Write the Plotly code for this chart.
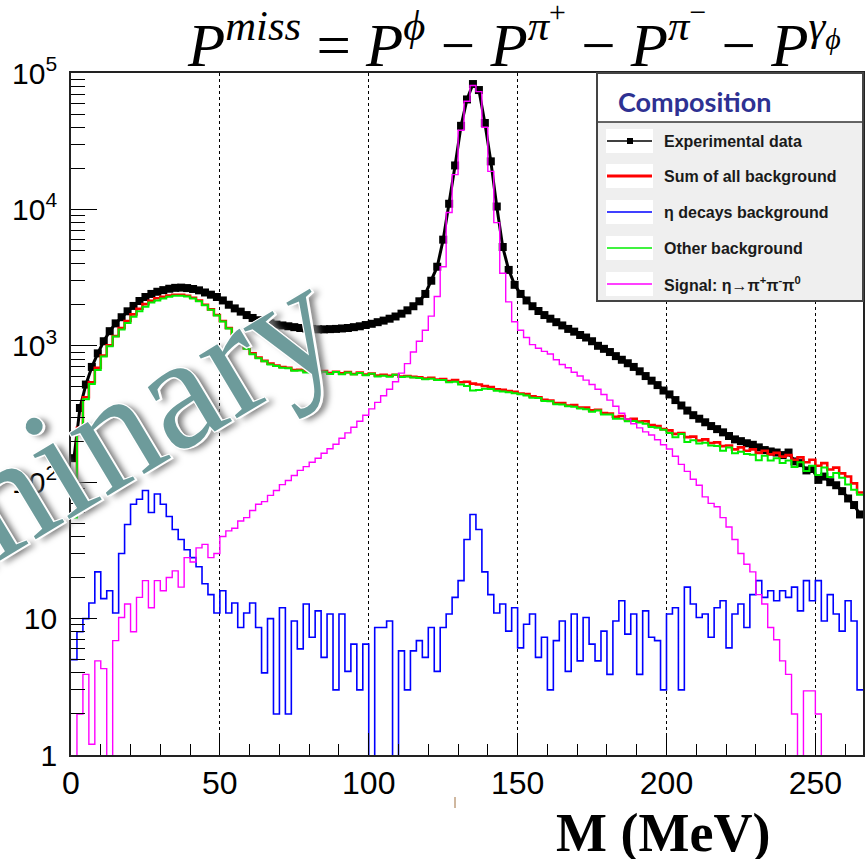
import numpy as np
import plotly.graph_objects as go

# ---------------- data (2 MeV bins, 0..266 MeV) ----------------
bin_edges = list(range(0, 268, 2))          # 134 edges
bin_centers = [e + 1 for e in bin_edges[:-1]]  # 133 centres

exp_data = [
    150, 350, 520, 700, 880, 1080, 1280, 1460, 1620, 1790,
    1960, 2130, 2280, 2400, 2490, 2560, 2620, 2660, 2670, 2650,
    2610, 2550, 2460, 2370, 2280, 2150, 2000, 1880, 1780, 1680,
    1600, 1540, 1490, 1460, 1430, 1410, 1390, 1370, 1350, 1340,
    1330, 1320, 1320, 1325, 1330, 1340, 1350, 1370, 1390, 1420,
    1450, 1490, 1530, 1580, 1640, 1720, 1820, 1950, 2120, 2400,
    3000, 3800, 6000, 11000, 21000, 41000, 64000, 83000, 75000, 43000,
    22500, 10500, 5300, 3600, 2800, 2400, 2150, 1950, 1800, 1680,
    1580, 1490, 1410, 1330, 1270, 1200, 1150, 1080, 1000, 950,
    900, 840, 790, 745, 700, 650, 600, 555, 515, 470,
    440, 400, 365, 335, 310, 292, 275, 258, 245, 232,
    218, 206, 200, 193, 188, 180, 172, 168, 165, 158,
    165, 142, 138, 122, 125, 104, 110, 100, 95, 86,
    76, 68, 58,
]

sum_bkg = [
    60, 250, 420, 540, 690, 850, 1010, 1180, 1350, 1520,
    1700, 1870, 2020, 2140, 2230, 2290, 2340, 2370, 2370, 2330,
    2250, 2150, 2000, 1850, 1680, 1520, 1350, 1220, 1080, 960,
    880, 820, 775, 740, 715, 700, 690, 665, 668, 650,
    655, 640, 652, 632, 645, 628, 641, 622, 636, 615,
    625, 605, 612, 603, 614, 596, 600, 592, 588, 575,
    583, 566, 570, 552, 561, 540, 545, 528, 520, 507,
    498, 480, 476, 466, 460, 447, 442, 426, 420, 402,
    396, 380, 381, 364, 368, 352, 352, 336, 340, 322,
    318, 302, 306, 288, 292, 278, 280, 262, 258, 245,
    240, 226, 229, 214, 216, 202, 206, 194, 196, 184,
    186, 174, 180, 170, 174, 164, 170, 160, 164, 154,
    158, 146, 152, 140, 146, 132, 138, 124, 128, 116,
    110, 98, 84,
]

eta_bkg = [
    5, 8, 10, 13, 22, 14, 16, 11, 30, 49,
    69, 75, 87, 60, 82, 69, 56, 45, 38, 32,
    28, 24, 18, 15, 11, 16, 11, 13, 8.6, 11,
    13, 8.6, 4, 10, 2, 12, 2, 9.6, 6, 12.8,
    7.3, 11.4, 5.2, 10.8, 3, 10.8, 4.1, 6.5, 3, 6.5,
    0.1, 8.6, 8.6, 9.6, 0.1, 5.8, 3, 5.8, 6.9, 5.2,
    8.6, 4.1, 8.6, 10.8, 14.3, 19, 38, 58, 45, 22,
    15, 11, 12.8, 8.1, 12, 6.1, 9.1, 10.8, 5.2, 7.3,
    3, 6.9, 9.6, 4.1, 10.8, 4.9, 10.2, 6.5, 4.9, 8.1,
    3.9, 9.6, 13.5, 7.7, 10.8, 3.9, 11.4, 7.3, 6.9, 3,
    10.8, 12, 3, 17, 12.8, 10.2, 10.8, 7.3, 12, 13.5,
    6.1, 10.8, 12.8, 8.6, 15, 19, 14.3, 16, 13.5, 16,
    14.3, 17, 11.4, 19, 13.5, 19, 9.6, 15, 10.8, 8.1,
    13.5, 9.6, 3,
]

other_bkg = [
    55, 240, 405, 525, 665, 835, 992, 1168, 1318, 1470,
    1630, 1795, 1930, 2080, 2150, 2220, 2285, 2325, 2330, 2300,
    2220, 2125, 1980, 1835, 1670, 1505, 1340, 1205, 1070, 950,
    866, 810, 770, 728, 712, 690, 686, 655, 660, 638,
    648, 628, 646, 622, 642, 618, 636, 615, 632, 608,
    624, 596, 602, 592, 613, 590, 596, 586, 581, 569,
    574, 562, 561, 541, 546, 520, 507, 470, 474, 485,
    482, 468, 463, 457, 448, 441, 432, 416, 414, 394,
    392, 373, 371, 360, 357, 347, 342, 329, 335, 314,
    314, 292, 292, 280, 281, 274, 268, 254, 251, 242,
    229, 214, 226, 197, 203, 192, 195, 186, 184, 170,
    180, 163, 167, 161, 159, 145, 156, 144, 150, 138,
    144, 129, 140, 121, 132, 113, 128, 109, 117, 108,
    96, 88, 81,
]

signal = [
    0.1, 2, 3.9, 1.2, 4.9, 4.3, 0.1, 6.9, 10.2, 12.8,
    8, 14.3, 19, 12, 19, 16, 20, 22.4, 17, 28,
    26, 33, 35, 28, 30, 40, 44, 46, 52, 55,
    62, 69, 72, 80, 87, 96, 103, 112, 122, 130,
    140, 150, 163, 176, 190, 210, 230, 253, 280, 310,
    345, 385, 430, 480, 545, 630, 740, 900, 1080, 1300,
    1650, 2300, 3800, 9500, 18000, 38000, 62000, 81000, 73000, 40000,
    19000, 8000, 3400, 2100, 1500, 1300, 1150, 1020, 960, 910,
    870, 790, 730, 690, 640, 600, 560, 520, 480, 440,
    400, 360, 320, 290, 268, 250, 234, 222, 205, 188,
    175, 155, 135, 120, 105, 95, 78, 70, 66, 55,
    47, 38, 30, 25, 22, 15, 12.8, 8.6, 7, 4.9,
    3.9, 2, 0.1, 2.95, 2.95, 2, 0.1, 0.1, 0.1, 0.1,
    0.1, 0.1, 0.1,
]

y_tick_vals = [1, 10, 100, 1000, 10000, 100000]
y_tick_text = ["1", "10", "10<sup>2</sup>", "10<sup>3</sup>", "10<sup>4</sup>", "10<sup>5</sup>"]
legend_labels = ["Experimental data", "Sum of all background", "\u03b7 decays background",
                 "Other background", "Signal: \u03b7\u2192\u03c0<sup>+</sup>\u03c0<sup>-</sup>\u03c0<sup>0</sup>"]

# ---------------- figure ----------------
W, H = 865, 859
ML, MR, MT, MB = 71, 2, 73, 104
PW, PH = W - ML - MR, H - MT - MB


def X(px):
    return (px - ML) / PW


def Y(py):
    return (H - MB - py) / PH


def step(vals):
    return bin_edges, list(vals) + [vals[-1]]


fig = go.Figure()

fig.add_trace(go.Scatter(x=bin_centers, y=exp_data, mode="lines+markers",
                         line=dict(color="black", width=3),
                         marker=dict(symbol="square", size=8, color="black"),
                         showlegend=False))
for vals, col, w in [(sum_bkg, "#ff0000", 2.6), (other_bkg, "#00ee00", 2.0),
                     (eta_bkg, "#0000ff", 1.6), (signal, "#ff00ff", 1.4)]:
    xs, ys = step(vals)
    fig.add_trace(go.Scatter(x=xs, y=ys, mode="lines", line=dict(color=col, width=w, shape="hv"),
                             showlegend=False))

shapes = []
# legend box
shapes.append(dict(type="rect", xref="paper", yref="paper", x0=X(597), x1=X(863), y0=Y(301), y1=Y(122),
                   fillcolor="#efefef", line=dict(width=0)))
shapes.append(dict(type="rect", xref="paper", yref="paper", x0=X(597), x1=X(863), y0=Y(122), y1=Y(73),
                   fillcolor="white", line=dict(width=0)))
shapes.append(dict(type="line", xref="paper", yref="paper", x0=X(597), x1=X(863), y0=Y(122), y1=Y(122),
                   line=dict(color="#333", width=1.5)))
shapes.append(dict(type="rect", xref="paper", yref="paper", x0=X(597), x1=X(863), y0=Y(301), y1=Y(73),
                   line=dict(color="#444", width=2)))
entry_y = [141, 176, 212, 248, 284]
entry_style = [("black", 1.5), ("#ff0000", 3), ("#0000ff", 1.5), ("#00ee00", 1.5), ("#ff00ff", 1.5)]
annotations = []
for cy, (col, w), lab in zip(entry_y, entry_style, legend_labels):
    shapes.append(dict(type="rect", xref="paper", yref="paper", x0=X(606), x1=X(653), y0=Y(cy + 12),
                       y1=Y(cy - 12), fillcolor="white", line=dict(width=0)))
    shapes.append(dict(type="line", xref="paper", yref="paper", x0=X(607), x1=X(652), y0=Y(cy), y1=Y(cy),
                       line=dict(color=col, width=w)))
    annotations.append(dict(text="<b>" + lab + "</b>", xref="paper", yref="paper", x=X(662), y=Y(cy),
                            xanchor="left", yanchor="middle", showarrow=False,
                            font=dict(family="Liberation Sans, Arial", size=16, color="#1a1a1a")))
shapes.append(dict(type="rect", xref="paper", yref="paper", x0=X(627), x1=X(633), y0=Y(144), y1=Y(138),
                   fillcolor="black", line=dict(width=0)))
# small stray mark below axis
shapes.append(dict(type="line", xref="paper", yref="paper", x0=X(455), x1=X(455), y0=Y(808), y1=Y(797),
                   line=dict(color="#a07040", width=1)))

annotations.append(dict(text="<b>Composition</b>", xref="paper", yref="paper", x=X(616), y=Y(102),
                        xanchor="left", yanchor="middle", showarrow=False,
                        font=dict(family="Lato, Open Sans", size=27, color="#2e3192")))

title_txt = ("<i>P</i><sup><i>miss</i></sup> = <i>P</i><sup><i>\u03d5</i></sup> \u2212 "
             "<i>P</i><sup><i>\u03c0</i><sup>+</sup></sup> \u2212 <i>P</i><sup><i>\u03c0</i><sup>\u2212</sup></sup>"
             " \u2212 <i>P</i><sup><i>\u03b3</i><sub><i>\u03d5</i></sub></sup>")
annotations.append(dict(text=title_txt, xref="paper", yref="paper", x=X(514), y=Y(37),
                        xanchor="center", yanchor="middle", showarrow=False,
                        font=dict(family="Liberation Serif, Times New Roman", size=61, color="black")))
annotations.append(dict(text="<b>M (MeV)</b>", xref="paper", yref="paper", x=X(663), y=Y(833),
                        xanchor="center", yanchor="middle", showarrow=False,
                        font=dict(family="Liberation Serif, Times New Roman", size=54, color="black")))
annotations.append(dict(text="Preliminary", xref="paper", yref="paper", x=X(-4), y=Y(500),
                        xanchor="center", yanchor="middle", showarrow=False, textangle=-31,
                        font=dict(family="Liberation Serif, Times New Roman", size=160, color="#6d9b9b",
                                  shadow="1px 1px 0 #fff, -1px -1px 0 #fff, 1px -1px 0 #fff, -1px 1px 0 #fff, "
                                         "2px 2px 0 #fff, 5px 5px 6px #777")))

minor_y = [m * 10 ** k for k in range(0, 5) for m in range(2, 10)]

fig.update_layout(
    width=W, height=H, margin=dict(l=ML, r=MR, t=MT, b=MB, autoexpand=False),
    paper_bgcolor="white", plot_bgcolor="white",
    shapes=shapes, annotations=annotations, showlegend=False,
    xaxis=dict(range=[0, 266], tickmode="linear", tick0=0, dtick=50, automargin=False,
               ticks="inside", ticklen=22, tickwidth=1.2, tickcolor="black",
               showline=True, linecolor="#222", linewidth=1.8, mirror=True,
               showgrid=True, gridcolor="black", griddash="dot", gridwidth=1,
               zeroline=False, ticklabelstandoff=-1,
               tickfont=dict(family="Liberation Sans, Arial", size=32, color="black"),
               minor=dict(dtick=10, tick0=0, ticks="inside", ticklen=11, tickcolor="black", tickwidth=1,
                          showgrid=False)),
    yaxis=dict(type="log", range=[0, 5], tickmode="array", tickvals=y_tick_vals, ticktext=y_tick_text,
               automargin=False,
               ticks="inside", ticklen=26, tickwidth=1.2, tickcolor="black",
               showline=True, linecolor="#222", linewidth=1.8, mirror=True,
               showgrid=False, zeroline=False, ticklabelstandoff=6,
               tickfont=dict(family="Liberation Sans, Arial", size=30, color="black"),
               minor=dict(tickmode="array", tickvals=minor_y, ticks="inside", ticklen=14,
                          tickcolor="black", tickwidth=1, showgrid=False)),
)

fig.write_html("out.html", config={"displayModeBar": False},
               post_script="document.body.style.margin='0';document.body.style.overflow='hidden';")
